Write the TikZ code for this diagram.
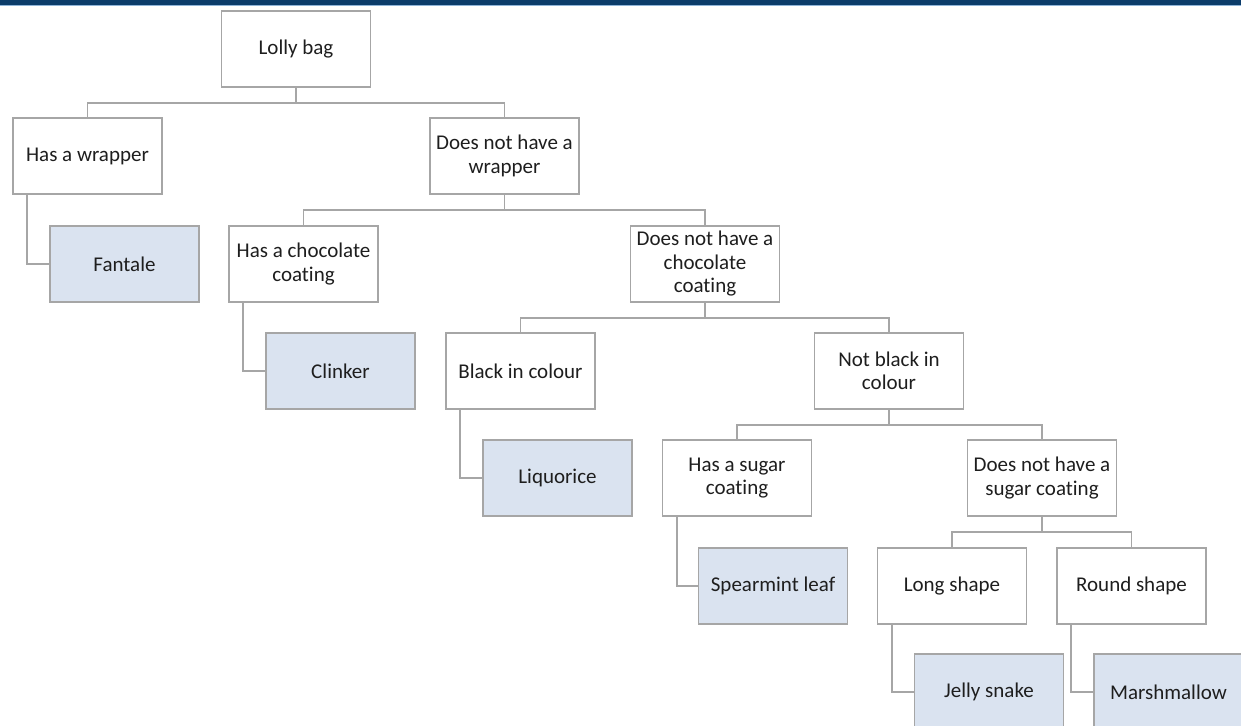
\documentclass[tikz,border=0pt]{standalone}
\usepackage{fontspec}
\setmainfont[Ligatures=NoCommon]{Carlito}
\usetikzlibrary{calc}

\definecolor{linegray}{HTML}{A6A6A6}
\definecolor{leafblue}{HTML}{DAE3F0}
\definecolor{bandnavy}{HTML}{0B3C6A}
\definecolor{bandlight}{HTML}{8FB4D8}
\definecolor{textgray}{HTML}{1E1E1E}

\begin{document}
\begin{tikzpicture}[x=0.5pt, y=-0.5pt,
  box/.style={draw=linegray, line width=0.8pt, fill=white, minimum width=74.5pt, minimum height=38pt,
    align=center, inner sep=2pt, font=\fontsize{10.5}{11.75}\selectfont, text=textgray},
  leaf/.style={box, fill=leafblue},
  link/.style={linegray, line width=0.8pt}]
\useasboundingbox (0,0) rectangle (1241,725);
\fill[white] (0,0) rectangle (1241,725);
\fill[bandnavy] (0,0) rectangle (1241,4.5);
\fill[bandlight] (0,4.5) rectangle (1241,5.5);

\node[box] (lolly) at (296,49) {Lolly bag};
\node[box] (wrap) at (87.5,156) {Has a wrapper};
\node[box] (nowrap) at (504.5,156) {Does not have a\\wrapper};
\node[leaf] (fantale) at (124.5,264) {Fantale};
\node[box] (choc) at (303.5,264) {Has a chocolate\\coating};
\node[box] (nochoc) at (705,264) {Does not have a\\chocolate\\coating};
\node[leaf] (clinker) at (340.5,371) {Clinker};
\node[box] (black) at (520.5,371) {Black in colour};
\node[box] (noblack) at (889,371) {Not black in\\colour};
\node[leaf] (liquorice) at (557.5,478) {Liquorice};
\node[box] (sugar) at (737,478) {Has a sugar\\coating};
\node[box] (nosugar) at (1042,478) {Does not have a\\sugar coating};
\node[leaf] (spearmint) at (773,586) {Spearmint leaf};
\node[box] (long) at (952,586) {Long shape};
\node[box] (round) at (1131.5,586) {Round shape};
\node[leaf] (snake) at (989,692) {Jelly snake};
\node[leaf] (marsh) at (1168.5,692) {Marshmallow};

% branches
\foreach \p/\c in {lolly/wrap, lolly/nowrap, nowrap/choc, nowrap/nochoc, nochoc/black, nochoc/noblack,
                   noblack/sugar, noblack/nosugar, nosugar/long, nosugar/round} {
 \draw[link] (\p.south) --++(0,15) -| (\c.north);
}
% answers
\foreach \p/\c in {wrap/fantale, choc/clinker, black/liquorice, sugar/spearmint, long/snake, round/marsh} {
 \draw[link] ([xshift=7.5pt]\p.south west) |- (\c.west);
}
\end{tikzpicture}
\end{document}
